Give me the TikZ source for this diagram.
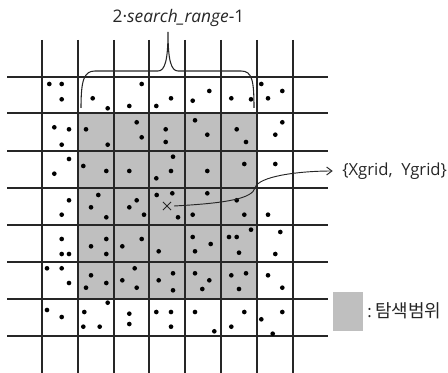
\documentclass[tikz,border=0pt]{standalone}
\usepackage{fontspec}
\setmainfont{Open Sans}
\newfontfamily\krfont{Noto Sans CJK KR}
\usetikzlibrary{shapes.misc,arrows.meta}
\begin{document}
\begin{tikzpicture}[x=0.75pt,y=-0.75pt,
  gridline/.style={line width=0.9pt,draw=black!85},
  dotmark/.style={fill=black},
  lbl/.style={inner sep=0pt,text=black!85}]
\useasboundingbox (0,0) rectangle (448,373);
% search range
\fill[black!25] (78,113) rectangle (257,299);
% grid
\foreach \x in {42,78,114,149,185,221,257,293}
  \draw[gridline] (\x,40) -- (\x,373);
\foreach \y in {77,113,151,188,225,262,299,336}
  \draw[gridline] (7,\y) -- (328,\y);
% dots
\foreach \p/\q in {
 49.3/84,61.7/84,61.7/99.3,92.7/98.3,107.7/108.3,141.7/84,129.3/106,156.3/106,171/98.3,192.7/100.7,209.3/91,231.3/98.3,251/99.3,261.3/84,268/98.3,282.3/91,
 54.3/127.3,69/129.3,61.7/144.7,86/129.3,107.7/144.7,136.7/122.3,141.7/137.3,165.7/129.3,165.7/142,195/120.3,207.3/134.7,236.7/129.3,246/142,282.3/122.3,275.3/134.7,
 69/159,54.3/173.7,83.3/166,106.3/171,129.3/171,173/156.7,171/171,156.3/178.3,207.3/171,244.3/164,275.3/164,
 69/200.3,61.7/214.7,98.3/195,91/207.3,106.3/217.3,136.7/200.3,129.3/207.3,144/214.7,156.7/195,172.3/193.3,178/217.3,192.7/214.7,207.3/193.3,236.7/200.3,244.3/214.7,268/214.7,
 61.7/239,61.7/254,69/254,91/246.3,106.3/239,106.3/254,122.3/246.3,141.7/239,158.7/251.3,192.7/237,210.7/244,195/251.3,229/237,236.7/237,251/229.7,239/252.7,280.3/232,275.3/254,
 47/268.3,61.7/268.3,69/283,91/275.3,86/287.7,106.3/283,134.7/268.3,122.3/280.3,136.7/287.7,158.7/280.3,173/273.3,173/290.3,195/273.3,209.3/280.3,202.3/289,231.3/275.3,246/273.3,239/289,268/275.3,282.3/287.7,
 107.7/302.7,47/310,61.7/317,84.3/312,83.3/326.7,99.7/326.7,129.3/313.7,129.3/324,156.3/312,171/312,171/326.7,195/312,214.3/331.3,244.3/312,231.3/326.7,282.3/312,261.3/319.3,272.7/333.7}
  \fill[dotmark] (\p,\q) circle[radius=1.75pt];
% brace
\draw[line width=0.8pt,black!85] (81,108) .. controls (81,80) and (84,71) .. (95,71) -- (158,71)
  .. controls (165,71) and (168,60) .. (168,32)
  .. controls (168,60) and (171,71) .. (178,71) -- (241,71)
  .. controls (252,71) and (254,80) .. (254,108);
\node[lbl,font=\fontsize{13}{15}\selectfont] (range) at (178.5,18) {2·\textit{search\_range}-1};
% center cell
\node[draw=black!85,cross out,line width=0.6pt,minimum size=5.5pt,inner sep=0pt] (xc) at (167,206) {};
\node[lbl,anchor=west,font=\fontsize{12.5}{14}\selectfont] (xy) at (342,171) {\{Xgrid,\ \ Ygrid\}};
\coordinate (kink) at (255,188);
\draw[line width=0.7pt,black!85,shorten >=7pt,-{Straight Barb[length=4pt,width=6pt]}] (xc.east) ++(3,0) .. controls (230,203) and (252,198) .. (kink)
  .. controls (258,176) and (300,171) .. (xy.west);
% legend
\node[fill=black!25,minimum width=22.5pt,minimum height=29pt,inner sep=0pt] (leg) at (348,311.5) {};
\node[lbl,anchor=west,font=\fontsize{12.5}{14}\selectfont] (legtext) at (367,311) {:\hspace{2.5pt}{\krfont\fontsize{13.5}{16}\selectfont 탐색범위}};
\end{tikzpicture}
\end{document}
